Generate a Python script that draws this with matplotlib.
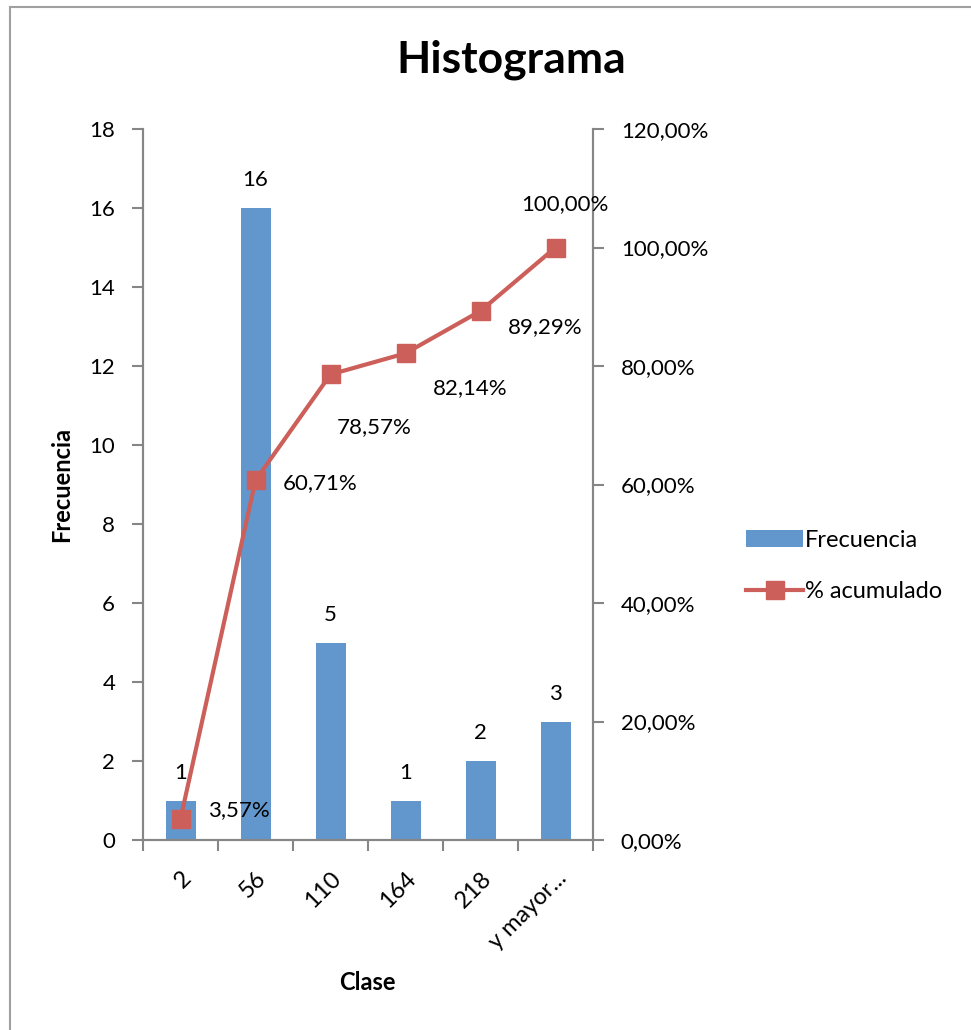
import matplotlib
matplotlib.use('Agg')
import matplotlib.pyplot as plt
import matplotlib.patches as patches
import numpy as np

plt.rcParams['font.family'] = ['Lato', 'DejaVu Sans']

clases = ['2', '56', '110', '164', '218', 'y mayor...']
frecuencia = [1, 16, 5, 1, 2, 3]
acumulado = [3.57, 60.71, 78.57, 82.14, 89.29, 100.00]

AZUL = '#6197CD'
ROJO = '#CD5F5A'
GRIS = '#868686'
FS = 16

fig = plt.figure(figsize=(9.71, 10.30), dpi=100)
fig.patch.set_facecolor('white')

# marco del gráfico
fig.add_artist(patches.Rectangle((10 / 971, -0.01), 1.0, 1 - 7 / 1030 + 0.01,
                                 transform=fig.transFigure, fill=False,
                                 edgecolor='#A0A0A0', linewidth=1.5))

ax = fig.add_axes([143 / 971, 1 - 840 / 1030, 450 / 971, 711 / 1030])
ax2 = ax.twinx()

x = np.arange(len(clases))
bars = ax.bar(x, frecuencia, width=0.4, color=AZUL, zorder=2, label='Frecuencia')
ax.set_xlim(-0.5, len(clases) - 0.5)
ax.set_ylim(0, 18)
ax.set_yticks(range(0, 19, 2))

for xi, v in zip(x, frecuencia):
    ax.text(xi, v + 0.45, str(v), ha='center', va='bottom', fontsize=FS)

line, = ax2.plot(x, acumulado, color=ROJO, linewidth=3, marker='s',
                 markersize=13, zorder=3, label='% acumulado')
ax2.set_ylim(0, 120)
ax2.set_yticks(range(0, 121, 20))
ax2.set_yticklabels([f'{v},00%' for v in range(0, 121, 20)])

# etiquetas del % acumulado
offsets = [(0.37, 1.5), (0.37, -0.5), (0.08, -8.9), (0.36, -5.9), (0.37, -2.7), (0.13, 7.3)]
for i, (xi, v, (dx, dy)) in enumerate(zip(x, acumulado, offsets)):
    ax2.text(xi + dx, v + dy, f'{v:.2f}%'.replace('.', ','),
             ha='center' if i == len(x) - 1 else 'left', va='center', fontsize=FS)

# ticks del eje x en los límites de categoría
ax.set_xticks(np.arange(-0.5, len(clases), 1.0), minor=False)
ax.set_xticklabels([])
ax.set_xticks(x, minor=True)
ax.set_xticklabels(clases, minor=True, rotation=45, ha='right',
                   rotation_mode='anchor', fontsize=FS + 1)
ax.tick_params(axis='x', which='minor', length=0, pad=20)
ax.tick_params(axis='x', which='major', length=8, color=GRIS, width=1.5)
ax.tick_params(axis='y', length=8, color=GRIS, width=1.5, labelsize=FS, pad=12)
ax2.tick_params(axis='y', length=8, color=GRIS, width=1.5, labelsize=FS, pad=12)

for a in (ax, ax2):
    a.spines['top'].set_visible(False)
    for s in ('left', 'right', 'bottom'):
        a.spines[s].set_color(GRIS)
        a.spines[s].set_linewidth(1.5)

ax.set_ylabel('Frecuencia', fontsize=FS + 1, fontweight='bold', labelpad=12)
fig.text(367 / 971, 1 - 983 / 1030, 'Clase', ha='center', va='center',
         fontsize=FS + 1, fontweight='bold')
fig.text(511 / 971, 1 - 60 / 1030, 'Histograma', ha='center', va='center',
         fontsize=32, fontweight='bold')

fig.legend([bars, line], ['Frecuencia', '% acumulado'], loc='center left',
           bbox_to_anchor=(725 / 971, 1 - 566 / 1030), frameon=False,
           fontsize=FS + 1, handlelength=2.4, handletextpad=0.1, labelspacing=1.3)

fig.savefig('out.png', dpi=100)
